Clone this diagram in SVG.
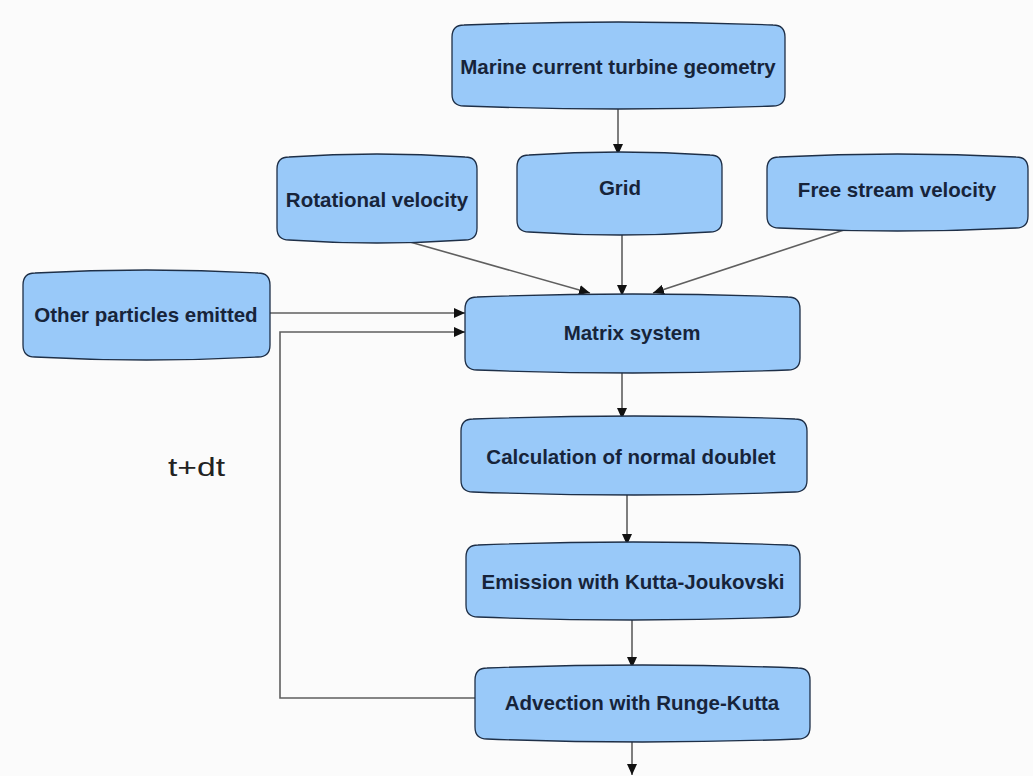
<svg xmlns="http://www.w3.org/2000/svg" width="1033" height="776" viewBox="0 0 1033 776">
<style>
.box{fill:#99c9f9;stroke:#1e2f47;stroke-width:1.3}
.lbl{font-family:"Liberation Sans",Arial,sans-serif;font-weight:bold;font-size:20.5px;fill:#17243a;text-anchor:middle}
.con{fill:none;stroke:#5f5f5f;stroke-width:1.6}
</style>
<defs>
<marker id="ah" markerUnits="userSpaceOnUse" markerWidth="12" markerHeight="10" refX="11" refY="5" orient="auto">
<path d="M0,0 L11,5 L0,10 Z" fill="#111"/>
</marker>
</defs>
<rect width="1033" height="776" fill="#fbfbfb"/>
<g id="connectors">
<path class="con" d="M618,106 L618,155" marker-end="url(#ah)"/>
<path class="con" d="M403,240 L590,293" marker-end="url(#ah)"/>
<path class="con" d="M622,232 L622,296" marker-end="url(#ah)"/>
<path class="con" d="M850,228 L653,293" marker-end="url(#ah)"/>
<path class="con" d="M270,313 L465,313" marker-end="url(#ah)"/>
<path class="con" d="M475,698 L280,698 L280,332 L465,332" marker-end="url(#ah)"/>
<path class="con" d="M622,370 L622,419" marker-end="url(#ah)"/>
<path class="con" d="M627,492 L627,545" marker-end="url(#ah)"/>
<path class="con" d="M632,617 L632,668" marker-end="url(#ah)"/>
<path class="con" d="M632,739 L632,775" marker-end="url(#ah)"/>
</g>
<g id="marine">
<path class="box" d="M464,25 Q618.5,19 773,25 Q785,25 785,37 L785,94 Q785,106 773,106 Q618.5,112 464,106 Q452,106 452,94 L452,37 Q452,25 464,25 Z"/>
<text class="lbl" x="618" y="74">Marine current turbine geometry</text>
</g>
<g id="grid">
<path class="box" d="M529,155 Q619.5,149 710,155 Q722,155 722,167 L722,220 Q722,232 710,232 Q619.5,238 529,232 Q517,232 517,220 L517,167 Q517,155 529,155 Z"/>
<text class="lbl" x="620" y="195">Grid</text>
</g>
<g id="rotational">
<path class="box" d="M289,157 Q377,151 465,157 Q477,157 477,169 L477,228 Q477,240 465,240 Q377,246 289,240 Q277,240 277,228 L277,169 Q277,157 289,157 Z"/>
<text class="lbl" x="377" y="207">Rotational velocity</text>
</g>
<g id="freestream">
<path class="box" d="M779,157 Q897.5,151 1016,157 Q1028,157 1028,169 L1028,216 Q1028,228 1016,228 Q897.5,234 779,228 Q767,228 767,216 L767,169 Q767,157 779,157 Z"/>
<text class="lbl" x="897" y="197">Free stream velocity</text>
</g>
<g id="other">
<path class="box" d="M35,273 Q146.5,267 258,273 Q270,273 270,285 L270,345 Q270,357 258,357 Q146.5,363 35,357 Q23,357 23,345 L23,285 Q23,273 35,273 Z"/>
<text class="lbl" x="146" y="322">Other particles emitted</text>
</g>
<g id="matrix">
<path class="box" d="M477,297 Q632.5,291 788,297 Q800,297 800,309 L800,358 Q800,370 788,370 Q632.5,376 477,370 Q465,370 465,358 L465,309 Q465,297 477,297 Z"/>
<text class="lbl" x="632" y="340">Matrix system</text>
</g>
<g id="calc">
<path class="box" d="M473,419 Q634,413 795,419 Q807,419 807,431 L807,480 Q807,492 795,492 Q634,498 473,492 Q461,492 461,480 L461,431 Q461,419 473,419 Z"/>
<text class="lbl" x="631" y="464">Calculation of normal doublet</text>
</g>
<g id="emission">
<path class="box" d="M478,545 Q633,539 788,545 Q800,545 800,557 L800,605 Q800,617 788,617 Q633,623 478,617 Q466,617 466,605 L466,557 Q466,545 478,545 Z"/>
<text class="lbl" x="633" y="589">Emission with Kutta-Joukovski</text>
</g>
<g id="advection">
<path class="box" d="M487,668 Q642.5,662 798,668 Q810,668 810,680 L810,727 Q810,739 798,739 Q642.5,745 487,739 Q475,739 475,727 L475,680 Q475,668 487,668 Z"/>
<text class="lbl" x="642" y="710">Advection with Runge-Kutta</text>
</g>
<g id="label-tdt">
<text x="168" y="476" font-family="Liberation Sans, Arial, sans-serif" font-size="26" textLength="57" lengthAdjust="spacingAndGlyphs" fill="#222">t+dt</text>
</g>
</svg>
